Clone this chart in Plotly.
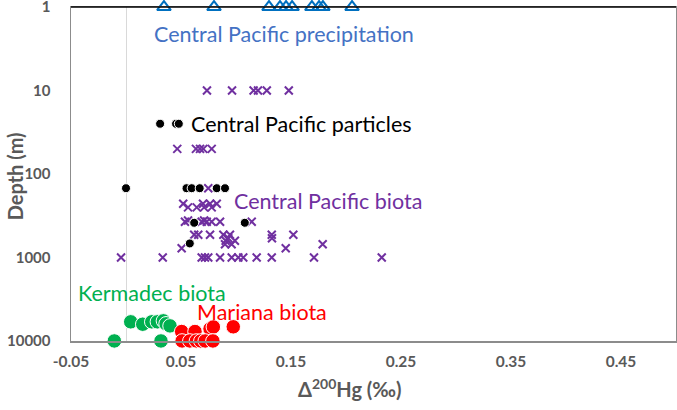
import math
import plotly.graph_objects as go

# ---- data ----
precip_x = [0.0345, 0.080, 0.130, 0.140, 0.1455, 0.151, 0.169, 0.1755, 0.179, 0.2055]
precip_d = [1] * 10

biota_x = [0.0736, 0.0964, 0.116, 0.120, 0.128, 0.148,
           0.0466, 0.0636, 0.0673, 0.0703, 0.0779,
           0.0748,
           0.052, 0.070, 0.0764, 0.0825,
           0.0643, 0.0564, 0.071, 0.0779,
           0.0536, 0.0564, 0.0688, 0.071, 0.0734, 0.0779, 0.0855, 0.1143,
           0.062, 0.0657, 0.0764, 0.0885, 0.0945, 0.1325, 0.1521,
           0.1327, 0.093,
           0.099, 0.0906,
           0.090, 0.096, 0.1788,
           0.0506, 0.1452,
           -0.0045, 0.0334, 0.0688, 0.0718, 0.0748, 0.0855, 0.0961, 0.1021, 0.1066, 0.1188, 0.1325, 0.1709, 0.2325]
biota_d = [10, 10, 10, 10, 10, 10,
           50, 50, 50, 50, 50,
           148,
           227, 227, 227, 227,
           251, 251, 251, 251,
           373, 360, 373, 360, 373, 373, 373, 373,
           535, 535, 535, 535, 535, 535, 535,
           589, 589,
           630, 630,
           695, 695, 695,
           775, 775,
           1000, 1000, 1000, 1000, 1000, 1000, 1000, 1000, 1000, 1000, 1000, 1000, 1000]

part_x = [0.031, 0.0455, 0.048, 0.000, 0.055, 0.0597, 0.067, 0.0825, 0.090, 0.062, 0.108, 0.058]
part_d = [25, 25, 25, 148, 148, 148, 148, 148, 148, 384, 384, 679]

kerm_x = [0.0043, 0.0152, 0.0234, 0.0285, 0.034, 0.0364, 0.040, -0.0106, 0.0318]
kerm_d = [5900, 6300, 5900, 5900, 5740, 6230, 6600, 10000, 10000]

mar_x = [0.0506, 0.0627, 0.0764, 0.0794, 0.0975, 0.051, 0.058, 0.064, 0.068, 0.072, 0.079]
mar_d = [7710, 7710, 7160, 6800, 6770, 10000, 10000, 10000, 10000, 10000, 10000]

x_ticks = [-0.05, 0.05, 0.15, 0.25, 0.35, 0.45]
y_ticks = [1, 10, 100, 1000, 10000]

FONT = "Lato"
GRAY = "#595959"

fig = go.Figure()
fig.add_trace(go.Scatter(x=precip_x, y=precip_d, mode="markers",
                         marker=dict(symbol="triangle-up-open", size=12, color="#0070C0",
                                     line=dict(width=2, color="#0070C0")),
                         cliponaxis=False))
fig.add_trace(go.Scatter(x=biota_x, y=biota_d, mode="markers",
                         marker=dict(symbol="x-thin", size=8, color="#7030A0",
                                     line=dict(width=2, color="#7030A0"))))
fig.add_trace(go.Scatter(x=part_x, y=part_d, mode="markers",
                         marker=dict(symbol="circle", size=9, color="black",
                                     line=dict(width=1, color="white"))))
fig.add_trace(go.Scatter(x=kerm_x, y=kerm_d, mode="markers",
                         marker=dict(symbol="circle", size=14.5, color="#00B050",
                                     line=dict(width=1, color="white")),
                         cliponaxis=False))
fig.add_trace(go.Scatter(x=mar_x, y=mar_d, mode="markers",
                         marker=dict(symbol="circle", size=14.5, color="#FF0000",
                                     line=dict(width=1, color="white")),
                         cliponaxis=False))

labels = [
    ("Central Pacific precipitation", 0.0236, 2.08, "#4472C4"),
    ("Central Pacific particles", 0.0573, 25, "black"),
    ("Central Pacific biota", 0.0964, 209, "#7030A0"),
    ("Kermadec biota", -0.0455, 2650, "#00B050"),
    ("Mariana biota", 0.0627, 4470, "#FF0000"),
]
for txt, lx, ly, col in labels:
    fig.add_annotation(text=txt, x=lx, y=math.log10(ly), xref="x", yref="y",
                       xanchor="left", yanchor="middle", showarrow=False,
                       font=dict(family=FONT, size=21.5, color=col))

fig.add_annotation(text="Δ<sup>200</sup>Hg (‰)", x=0.461, y=-0.141, xref="paper", yref="paper",
                   xanchor="center", yanchor="middle", showarrow=False,
                   font=dict(family=FONT, size=20, color=GRAY, weight="bold"))
fig.add_annotation(text="Depth (m)", x=-0.092, y=0.494, xref="paper", yref="paper",
                   xanchor="center", yanchor="middle", showarrow=False, textangle=-90,
                   font=dict(family=FONT, size=20, color=GRAY, weight="bold"))

fig.add_shape(type="line", xref="paper", yref="paper", x0=0, x1=1, y0=1, y1=1,
              line=dict(color="black", width=1.5))

fig.update_layout(
    width=677, height=410,
    margin=dict(l=71, r=1, t=7, b=69, autoexpand=False),
    paper_bgcolor="white", plot_bgcolor="white",
    showlegend=False,
    xaxis=dict(range=[-0.05, 0.5], tickvals=x_ticks, ticktext=[f"{v:.2f}" for v in x_ticks],
               automargin=False, ticklabeloverflow="allow",
               showgrid=False, zeroline=True, zerolinecolor="#D9D9D9", zerolinewidth=1,
               showline=True, linecolor="#8C8C8C", linewidth=1.5, mirror=True,
               ticks="", ticklabelstandoff=6,
               tickfont=dict(family=FONT, size=15.5, color=GRAY, weight="bold")),
    yaxis=dict(type="log", range=[4.0005, -0.0005], tickvals=y_ticks, ticktext=[str(v) for v in y_ticks],
               automargin=False, ticklabeloverflow="allow",
               showgrid=False, zeroline=False,
               showline=True, linecolor="#8C8C8C", linewidth=1.5, mirror=True,
               ticks="", ticklabelstandoff=16,
               tickfont=dict(family=FONT, size=15, color=GRAY, weight="bold")),
)

fig.write_html("out.html", config={"displayModeBar": False, "staticPlot": True},
               post_script="document.body.style.margin='0';document.body.style.overflow='hidden';")
